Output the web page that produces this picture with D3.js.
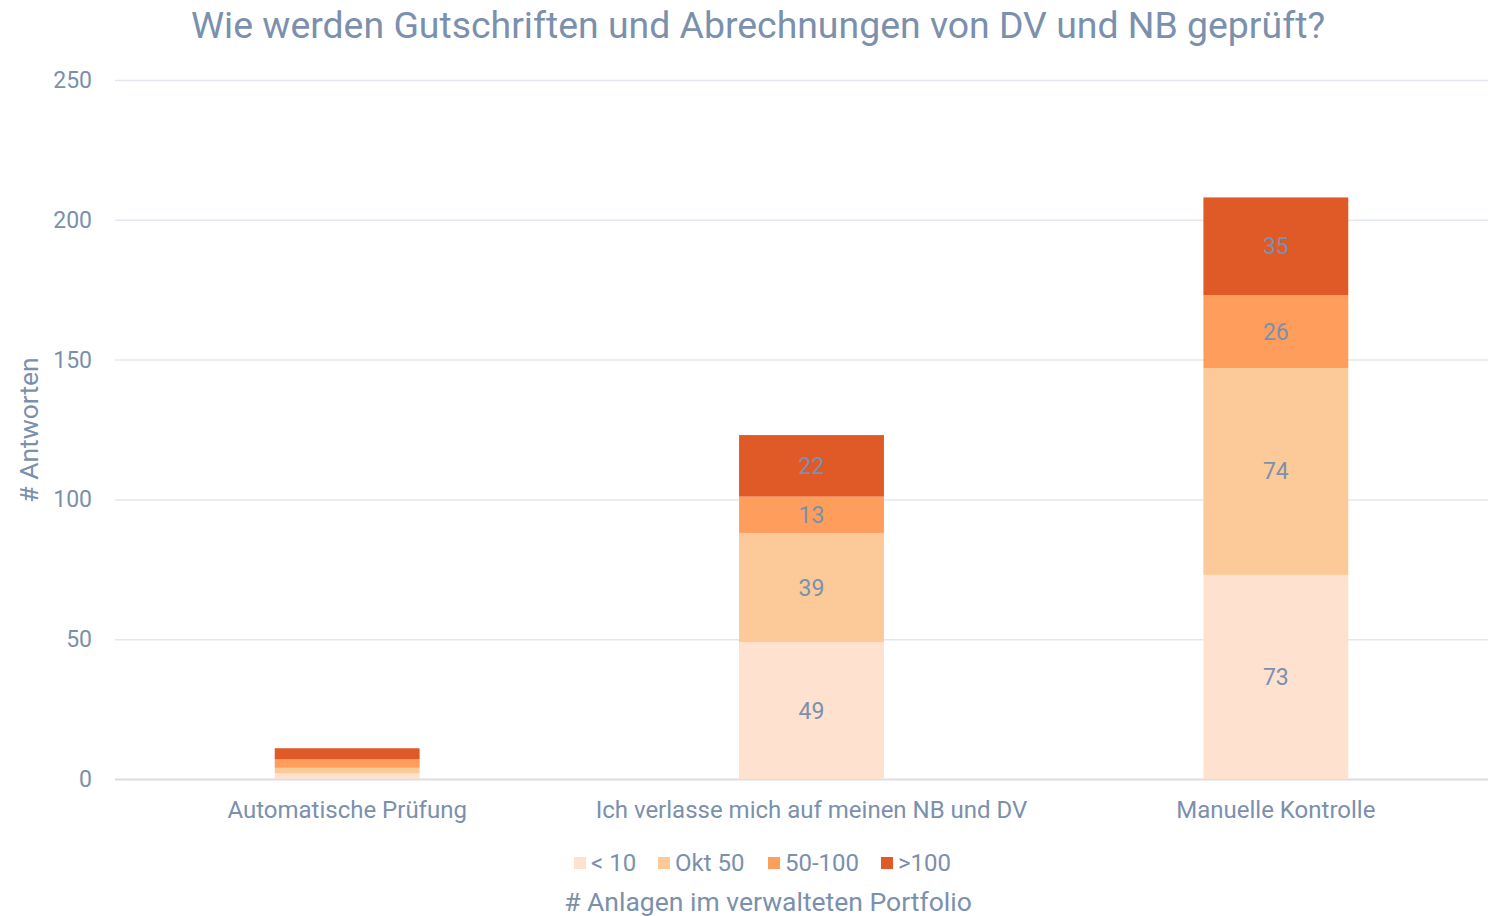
<!DOCTYPE html>
<html>
<head>
<meta charset="utf-8">
<script src="https://cdn.jsdelivr.net/npm/d3@7"></script>
<style>
  body { margin: 0; background: #fff; }
  text { font-family: Roboto, "Noto Sans", sans-serif; fill: #7b90ad; }
</style>
</head>
<body>
<script>
const categories = ["Automatische Prüfung", "Ich verlasse mich auf meinen NB und DV", "Manuelle Kontrolle"]
const seriesNames = ["< 10", "Okt 50", "50-100", ">100"]
const under10 = [2, 49, 73]
const okt50 = [2, 39, 74]
const from50to100 = [3, 13, 26]
const over100 = [4, 22, 35]
const yTicks = [0, 50, 100, 150, 200, 250]
const colors = ["#fee1cf", "#fcc998", "#fe9d5c", "#e05a27"]

const width = 1488
const height = 916
const margin = {top: 80, right: 0, bottom: 137, left: 115}

const rows = categories.map((c, i) => ({
  category: c,
  "< 10": under10[i],
  "Okt 50": okt50[i],
  "50-100": from50to100[i],
  ">100": over100[i]
}))

const stack = d3.stack().keys(seriesNames)(rows)

const svg = d3.select("body").append("svg")
  .attr("width", width)
  .attr("height", height)

const x = d3.scaleBand()
  .domain(categories)
  .range([margin.left, 1508])
  .paddingInner(0.688)
  .paddingOuter(0.344)

const y = d3.scaleLinear()
  .domain([0, 250])
  .range([height - margin.bottom, margin.top])

// gridlines
svg.append("g")
  .selectAll("line")
  .data(yTicks)
  .join("line")
  .attr("x1", margin.left)
  .attr("x2", width)
  .attr("y1", d => y(d) + 0.5)
  .attr("y2", d => y(d) + 0.5)
  .attr("stroke", d => d === 0 ? "#d9dee6" : "#e3e7ee")
  .attr("stroke-width", d => d === 0 ? 2 : 1.5)

// y axis labels
svg.append("g")
  .selectAll("text")
  .data(yTicks)
  .join("text")
  .attr("x", 92)
  .attr("y", d => y(d))
  .attr("dy", "0.35em")
  .attr("text-anchor", "end")
  .style("font-size", "23px")
  .text(d => d)

// bars
const layer = svg.append("g")
  .selectAll("g")
  .data(stack)
  .join("g")
  .attr("fill", (d, i) => colors[i])

layer.selectAll("rect")
  .data(d => d)
  .join("rect")
  .attr("x", d => x(d.data.category))
  .attr("width", x.bandwidth())
  .attr("y", d => y(d[1]))
  .attr("height", d => y(d[0]) - y(d[1]))

// value labels (only where the segment is tall enough)
layer.selectAll("text")
  .data(d => d.filter(s => s[1] - s[0] >= 10))
  .join("text")
  .attr("x", d => x(d.data.category) + x.bandwidth() / 2)
  .attr("y", d => y((d[0] + d[1]) / 2))
  .attr("dy", "0.35em")
  .attr("text-anchor", "middle")
  .style("font-size", "23px")
  .text(d => d[1] - d[0])

// category labels
svg.append("g")
  .selectAll("text")
  .data(categories)
  .join("text")
  .attr("x", d => x(d) + x.bandwidth() / 2)
  .attr("y", 810)
  .attr("dy", "0.35em")
  .attr("text-anchor", "middle")
  .style("font-size", "24px")
  .text(d => d)

// title
svg.append("text")
  .attr("x", 758)
  .attr("y", 38)
  .attr("text-anchor", "middle")
  .style("font-size", "37.4px")
  .text("Wie werden Gutschriften und Abrechnungen von DV und NB geprüft?")

// y axis title
svg.append("text")
  .attr("transform", "translate(38,430) rotate(-90)")
  .attr("text-anchor", "middle")
  .style("font-size", "26.5px")
  .text("# Antworten")

// legend
const legendX = [574, 658, 768, 881]
const legend = svg.append("g")
  .selectAll("g")
  .data(seriesNames)
  .join("g")
  .attr("transform", (d, i) => `translate(${legendX[i]},857)`)

legend.append("rect")
  .attr("width", 12)
  .attr("height", 12)
  .attr("fill", (d, i) => colors[i])

legend.append("text")
  .attr("x", 17)
  .attr("y", 6)
  .attr("dy", "0.35em")
  .style("font-size", "24px")
  .text(d => d)

// x axis title
svg.append("text")
  .attr("x", 768)
  .attr("y", 902)
  .attr("dy", "0.35em")
  .attr("text-anchor", "middle")
  .style("font-size", "26.5px")
  .text("# Anlagen im verwalteten Portfolio")
</script>
</body>
</html>
